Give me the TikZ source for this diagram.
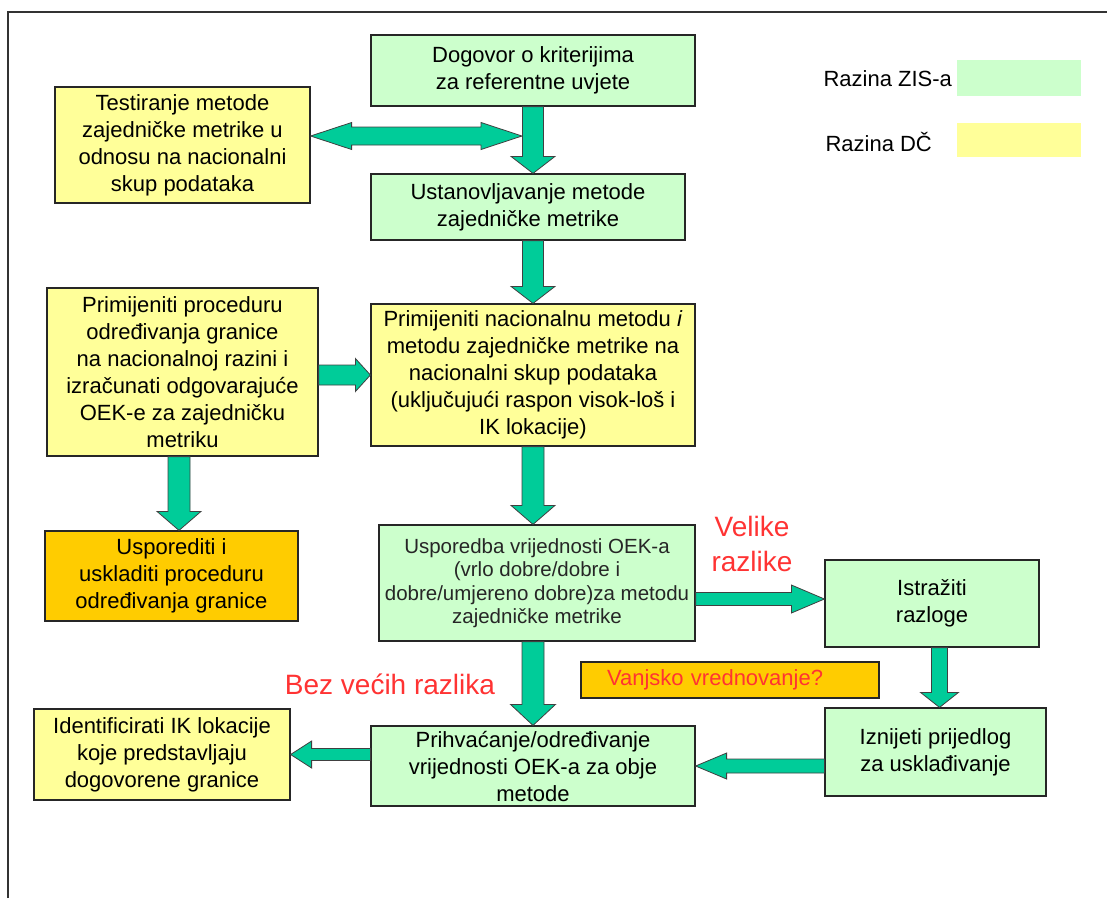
\documentclass[tikz,border=0pt]{standalone}
\usepackage{fontspec}
\setmainfont{Liberation Sans}
\usepackage{xcolor}
\usepackage{tikz}
\usetikzlibrary{calc}
\definecolor{zisgreen}{RGB}{204,255,204}
\definecolor{dcyellow}{RGB}{255,255,153}
\definecolor{uskorange}{RGB}{255,204,0}
\definecolor{arrgreen}{RGB}{0,204,153}
\definecolor{razred}{RGB}{255,51,51}
\newcommand{\bfs}{\fontsize{22}{27}\selectfont}
\newcommand{\sfs}{\fontsize{20.5}{23.5}\selectfont}
\newcommand{\rfs}{\fontsize{28}{35}\selectfont}
\tikzset{okvir/.style={draw=black!85, line width=1.2pt, align=center, inner sep=0pt, font=\bfs},
    zis/.style={okvir, fill=zisgreen},
    dc/.style={okvir, fill=dcyellow},
    nar/.style={okvir, fill=uskorange},
    crv/.style={text=razred, font=\rfs, align=center},
    strel/.style={draw=black!75, line width=0.8pt, fill=arrgreen, line join=miter},
    blk/.style args={#1/#2/#3}{to path={
        let \p1=(\tikztostart), \p2=(\tikztotarget),
            \n1={veclen(\x2-\x1,\y2-\y1)}, \n2={atan2(\y2-\y1,\x2-\x1)} in
        [shift={(\p1)}, rotate=\n2]
        (0pt,{#1pt/2}) -- ({\n1-#3pt},{#1pt/2}) -- ({\n1-#3pt},{#2pt/2}) -- (\n1,0pt)
        -- ({\n1-#3pt},{-#2pt/2}) -- ({\n1-#3pt},{-#1pt/2}) -- (0pt,{-#1pt/2}) -- cycle}},
    blkd/.style args={#1/#2/#3}{to path={
        let \p1=(\tikztostart), \p2=(\tikztotarget),
            \n1={veclen(\x2-\x1,\y2-\y1)}, \n2={atan2(\y2-\y1,\x2-\x1)} in
        [shift={(\p1)}, rotate=\n2]
        (0pt,0pt) -- ({#3pt},{#2pt/2}) -- ({#3pt},{#1pt/2}) -- ({\n1-#3pt},{#1pt/2})
        -- ({\n1-#3pt},{#2pt/2}) -- (\n1,0pt) -- ({\n1-#3pt},{-#2pt/2}) -- ({\n1-#3pt},{-#1pt/2})
        -- ({#3pt},{-#1pt/2}) -- ({#3pt},{-#2pt/2}) -- cycle}}}

\begin{document}
\begin{tikzpicture}[x=1pt,y=-1pt]
\useasboundingbox (0,0) rectangle (1107,898);
%\draw[thin, opacity=0.3] (0,0) grid[step=50] (1107,898);

% okvir
\draw[line width=1.5pt, black!80] (8,898) -- (8,12) -- (1107,12);

%%% legenda
\node[anchor=west, font=\bfs] (lzis) at (820,79) {Razina ZIS-a};
\node[fill=zisgreen, minimum width=124pt, minimum height=36pt, inner sep=0pt] (kzis) at (1019,78) {};
\node[anchor=west, font=\bfs] (ldc) at (822,142) {Razina DČ};
\node[fill=dcyellow, minimum width=124pt, minimum height=34pt, inner sep=0pt] (kdc) at (1019,140) {};

%%% kutije

% gore
\node[zis, minimum width=324pt, minimum height=71pt] (dog) at (533,70.5) {Dogovor o kriterijima\\za referentne uvjete};
\node[dc, minimum width=255pt, minimum height=116pt] (tst) at (182.5,145) {Testiranje metode\\zajedničke metrike u\\odnosu na nacionalni\\skup podataka};
\node[zis, minimum width=314pt, minimum height=66pt] (ust) at (528,207) {Ustanovljavanje metode\\zajedničke metrike};

% sredina
\node[dc, minimum width=271pt, minimum height=168pt] (proc) at (182.5,372) {Primijeniti proceduru\\određivanja granice\\na nacionalnoj razini i\\izračunati odgovarajuće\\OEK-e za zajedničku\\metriku};
\node[dc, minimum width=324pt, minimum height=142pt] (nac) at (533,375) {Primijeniti nacionalnu metodu \textit{i}\\metodu zajedničke metrike na\\nacionalni skup podataka\\(uključujući raspon visok-loš i\\IK lokacije)};
\node[nar, minimum width=253pt, minimum height=90pt] (usl) at (171.5,576) {Usporediti i\\uskladiti proceduru\\određivanja granice};
\node[zis, font=\sfs, text=black!85, minimum width=316pt, minimum height=116pt] (usp) at (537,583) {Usporedba vrijednosti OEK-a\\(vrlo dobre/dobre i\\dobre/umjereno dobre)za metodu\\zajedničke metrike};
\node[zis, minimum width=214pt, minimum height=87pt] (ist) at (932,603.5) {Istražiti\\razloge};

% dolje
\node[nar, text=razred, align=left, text width=246pt, inner xsep=26pt, minimum height=36pt] (vanj) at (730,680) {Vanjsko vrednovanje?};
\node[zis, minimum width=221pt, minimum height=88pt] (izn) at (935.5,752) {Iznijeti prijedlog\\za usklađivanje};
\node[zis, minimum width=324pt, minimum height=80pt] (pri) at (533,766) {Prihvaćanje/određivanje\\vrijednosti OEK-a za obje\\metode};
\node[dc, minimum width=256pt, minimum height=91pt] (idf) at (162,754.5) {Identificirati IK lokacije\\koje predstavljaju\\dogovorene granice};

% natpisi
\node[crv] (vel) at (752,544) {Velike\\razlike};
\node[crv] (bez) at (390,684) {Bez većih razlika};

%%% strelice
\coordinate (tst-r) at ($(tst.east)+(0pt,9pt)$);
\coordinate (jn) at ($(dog.south |- tst-r)+(-11pt,0pt)$);
\coordinate (proc-d) at ($(proc.south)+(-3.5pt,0pt)$);
\coordinate (ist-in) at ($(ist.west)+(0pt,4.5pt)$);
\coordinate (ist-d) at ($(ist.south)+(7.5pt,0pt)$);

\draw[strel] (tst-r) to[blkd=18/27/41] (jn);
\draw[strel] (dog.south) to[blk=21/44/17] (dog.south |- ust.north);
\draw[strel] (ust.south -| nac.north) to[blk=21/44/17] (nac.north);
\draw[strel] (proc.east |- nac.west) to[blk=20/33/15] (nac.west);
\draw[strel] (proc-d) to[blk=22/44/19] (proc-d |- usl.north);
\draw[strel] (nac.south) to[blk=22/44/19] (nac.south |- usp.north);
\draw[strel] (usp.east |- ist-in) to[blk=13/28/33] (ist-in);
\draw[strel] (ist-d) to[blk=16/38/15] (ist-d |- izn.north);
\draw[strel] (usp.south -| pri.north) to[blk=22/45/21] (pri.north);
\draw[strel] (izn.west |- pri.east) to[blk=14/26/31] (pri.east);
\draw[strel] (pri.west |- idf.east) to[blk=12/27/21] (idf.east);
\end{tikzpicture}
\end{document}
